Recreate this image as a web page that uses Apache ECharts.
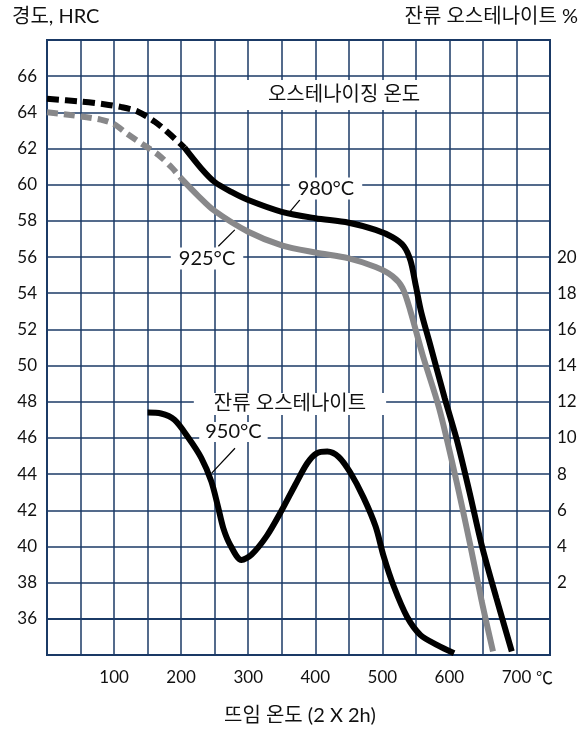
<!DOCTYPE html>
<html>
<head>
<meta charset="utf-8">
<title>뜨임 온도에 따른 경도 및 잔류 오스테나이트</title>
<script src="https://cdn.jsdelivr.net/npm/echarts@6/dist/echarts.min.js"></script>
<style>
  html, body { margin: 0; padding: 0; background: #fff; }
  #chart { width: 585px; height: 734px; }
</style>
</head>
<body>
<div id="chart"></div>
<script>
// Tick labels shown on each axis
const tempTickLabels = [100, 200, 300, 400, 500, 600, 700];
const hrcTickLabels = [36, 38, 40, 42, 44, 46, 48, 50, 52, 54, 56, 58, 60, 62, 64, 66];
const austTickLabels = [2, 4, 6, 8, 10, 12, 14, 16, 18, 20];

// Hardness (HRC) vs tempering temperature (°C), austenitized at 980 °C
const hrc980Dashed = [[0, 64.75], [50, 64.6], [85, 64.45], [110, 64.3], [135, 64.05], [160, 63.5], [180, 62.9], [205, 62.05]];
const hrc980Solid = [[205, 62.05], [230, 60.9], [250, 60.15], [275, 59.6], [300, 59.15], [350, 58.5],
  [400, 58.15], [450, 57.9], [490, 57.5], [515, 57.1], [532, 56.6], [542, 55.8], [550, 54.4], [558, 52.95],
  [571, 51.2], [593, 48.2], [611, 45.9], [630, 43.0], [648, 40.1], [670, 37.15], [693, 34.2]];

// Hardness (HRC) vs tempering temperature (°C), austenitized at 925 °C
const hrc925Dashed = [[0, 64.0], [35, 63.85], [80, 63.6], [100, 63.35], [120, 62.8], [146, 62.15], [166, 61.65], [186, 60.95], [200, 60.35]];
const hrc925Solid = [[200, 60.35], [225, 59.4], [250, 58.55], [300, 57.4], [350, 56.65], [400, 56.25], [450, 55.93], [490, 55.45],
  [515, 54.95], [530, 54.3], [542, 53.0], [560, 50.6], [585, 47.6], [610, 43.7], [631, 40.1], [648, 37.0], [665, 34.2]];

// Retained austenite (%) vs tempering temperature (°C), austenitized at 950 °C
const retained950 = [[150, 11.4], [170, 11.35], [190, 11.0], [210, 10.05], [230, 8.9], [245, 7.6], [255, 6.2],
  [263, 5.0], [273, 4.1], [290, 3.25], [305, 3.55], [328, 4.6], [350, 6.0], [370, 7.4], [388, 8.6], [402, 9.15],
  [418, 9.25], [435, 8.95], [452, 8.1], [472, 6.7], [490, 5.1], [502, 3.45], [517, 1.8], [537, 0.1], [557, -0.9],
  [582, -1.45], [607, -1.9]];

const FONT = 'Lato, "Noto Sans CJK KR", sans-serif';
const GRID_COLOR = '#1b3a66';
const GRAY = '#88888a';

function note(name, coord, padding) {
  return {
    name: name,
    coord: coord,
    symbol: 'rect',
    symbolSize: 1,
    itemStyle: { color: 'rgba(0,0,0,0)' },
    label: {
      show: true,
      position: 'inside',
      formatter: '{b}',
      color: '#111',
      fontFamily: FONT,
      fontSize: 20,
      backgroundColor: '#fff',
      padding: padding
    }
  };
}

function leader(from, to) {
  return [{ coord: from }, { coord: to }];
}

const markLineStyle = {
  silent: true,
  symbol: ['none', 'none'],
  label: { show: false },
  lineStyle: { color: '#000', width: 1.2, type: 'solid' },
  emphasis: { disabled: true }
};

const chart = echarts.init(document.getElementById('chart'), null, { renderer: 'canvas' });

chart.setOption({
  animation: false,
  backgroundColor: '#fff',
  grid: {
    left: 47, right: 35, top: 40, bottom: 79,
    show: true, borderColor: GRID_COLOR, borderWidth: 2,
    containLabel: false
  },
  xAxis: {
    type: 'value', min: 0, max: 750, interval: 50,
    axisLine: { show: true, lineStyle: { color: GRID_COLOR, width: 2 } },
    axisTick: { show: false },
    splitLine: { show: true, lineStyle: { color: GRID_COLOR, width: 1.5 } },
    axisLabel: {
      margin: 14, color: '#111', fontFamily: FONT, fontSize: 17,
      showMinLabel: true, showMaxLabel: true,
      formatter: v => tempTickLabels.includes(v) ? String(v) : ''
    }
  },
  yAxis: [
    {
      type: 'value', min: 34, max: 68, interval: 2,
      axisLine: { show: true, lineStyle: { color: GRID_COLOR, width: 2 } },
      axisTick: { show: false },
      splitLine: { show: true, lineStyle: { color: GRID_COLOR, width: 1.5 } },
      axisLabel: {
        margin: 10, color: '#111', fontFamily: FONT, fontSize: 17,
        showMinLabel: true, showMaxLabel: true,
        formatter: v => hrcTickLabels.includes(v) ? String(v) : ''
      }
    },
    {
      type: 'value', position: 'right', min: -2, max: 32, interval: 2,
      axisLine: { show: false },
      axisTick: { show: false },
      splitLine: { show: false },
      axisLabel: {
        margin: 7, color: '#111', fontFamily: FONT, fontSize: 17,
        showMinLabel: true, showMaxLabel: true,
        formatter: v => austTickLabels.includes(v) ? String(v) : ''
      }
    }
  ],
  graphic: [
    { type: 'text', left: 12, top: 7, style: { text: '경도, HRC', font: '20px ' + FONT, fill: '#111' } },
    { type: 'text', right: 7, top: 7, style: { text: '잔류 오스테나이트 %', font: '20px ' + FONT, fill: '#111' } },
    { type: 'text', left: 224, top: 706, style: { text: '뜨임 온도 (2 X 2h)', font: '20px ' + FONT, fill: '#111' } },
    { type: 'text', left: 536, top: 669, style: { text: '℃', font: '17px "Noto Sans CJK KR", sans-serif', fill: '#111' } }
  ],
  series: [
    {
      name: '925 dashed', type: 'line', data: hrc925Dashed, smooth: 0.3,
      showSymbol: false, symbol: 'none', z: 3,
      lineStyle: { color: GRAY, width: 6, type: [11, 6] }
    },
    {
      name: '925', type: 'line', data: hrc925Solid, smooth: 0.3,
      showSymbol: false, symbol: 'none', z: 3,
      lineStyle: { color: GRAY, width: 6 },
      markPoint: { silent: true, data: [note('925°C', [238.6, 55.92], [1, 8])] },
      markLine: Object.assign({ data: [leader([280, 57.5], [255.5, 56.6])] }, markLineStyle)
    },
    {
      name: '980 dashed', type: 'line', data: hrc980Dashed, smooth: 0.3,
      showSymbol: false, symbol: 'none', z: 4,
      lineStyle: { color: '#000', width: 6, type: [12, 6] }
    },
    {
      name: '980', type: 'line', data: hrc980Solid, smooth: 0.3,
      showSymbol: false, symbol: 'none', z: 4,
      lineStyle: { color: '#000', width: 6 },
      markPoint: {
        silent: true,
        data: [
          note('980°C', [416, 59.79], [1, 8]),
          note('오스테나이징 온도', [443, 64.96], [5, 26])
        ]
      },
      markLine: Object.assign({ data: [leader([377, 59.16], [362, 58.5])] }, markLineStyle)
    },
    {
      name: '950', type: 'line', yAxisIndex: 1, data: retained950, smooth: 0.3,
      showSymbol: false, symbol: 'none', z: 4,
      lineStyle: { color: '#000', width: 6 },
      markPoint: {
        silent: true,
        data: [
          note('잔류 오스테나이트', [362.3, 11.88], [1, 20]),
          note('950°C', [278, 10.33], [0, 6])
        ]
      },
      markLine: Object.assign({ data: [leader([280.3, 9.43], [245.6, 8.05])] }, markLineStyle)
    }
  ]
});
</script>
</body>
</html>
